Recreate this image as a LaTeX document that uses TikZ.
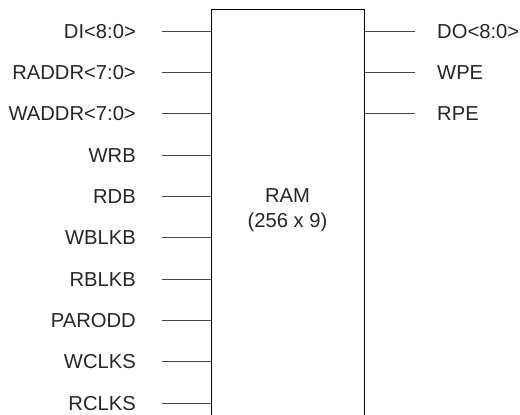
\documentclass[tikz,border=0pt]{standalone}
\usepackage{fontspec}
\setmainfont{Liberation Sans}
\begin{document}
\begin{tikzpicture}[x=1pt,y=-1pt,
  pinline/.style={draw=black!72, line width=0.9pt},
  boxline/.style={draw=black, line width=0.9pt},
  lbl/.style={font=\fontsize{20.2}{24}\selectfont, inner sep=0pt, text=black!85}]
\useasboundingbox (0,0) rectangle (520,415);
\clip (0,0) rectangle (520,415);
\node[boxline, minimum width=153pt, minimum height=421pt, inner sep=0pt, anchor=north west] (ram) at (211,9) {};
\node[lbl, anchor=base] (ramname) at (287.5,202) {RAM};
\node[lbl, anchor=base] (ramsize) at (287.5,227.5) {(256 x 9)};
% left pins
\foreach \n/\t/\y in {di/DI<8:0>/31, raddr/RADDR<7:0>/72.3, waddr/WADDR<7:0>/113.7,
  wrb/WRB/155, rdb/RDB/196.3, wblkb/WBLKB/237.7, rblkb/RBLKB/279,
  parodd/PARODD/320.3, wclks/WCLKS/361.7, rclks/RCLKS/403}{
  \node[lbl, anchor=base east] (\n) at (136,\y+7.2) {\t};
  \coordinate (\n-end) at (162,\y);
  \draw[pinline] (\n-end) -- (\n-end -| ram.west);
}
% right pins
\foreach \n/\t/\y in {do/DO<8:0>/31, wpe/WPE/72.3, rpe/RPE/113.7}{
  \node[lbl, anchor=base west] (\n) at (437,\y+7.2) {\t};
  \coordinate (\n-end) at (415,\y);
  \draw[pinline] (\n-end) -- (\n-end -| ram.east);
}
\end{tikzpicture}
\end{document}
